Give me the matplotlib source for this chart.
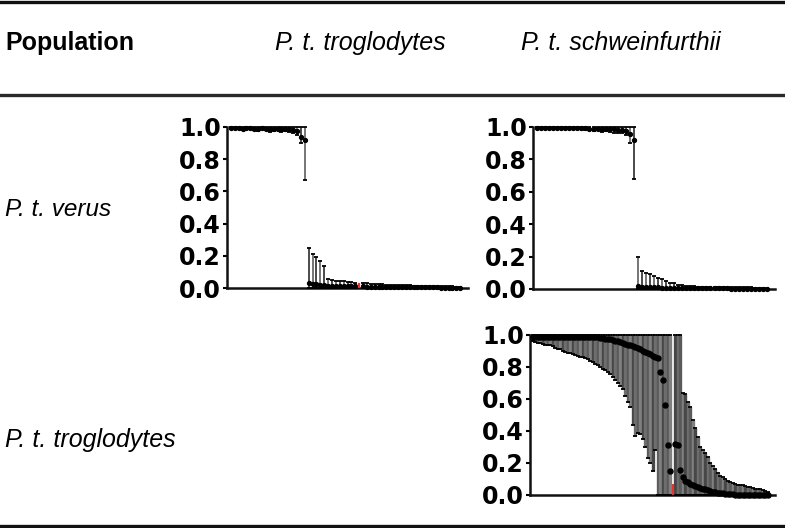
import matplotlib
matplotlib.use('Agg')
import matplotlib.pyplot as plt
from matplotlib.lines import Line2D

# header / row labels
col_labels = ['Population', 'P. t. troglodytes', 'P. t. schweinfurthii']
row_labels = ['P. t. verus', 'P. t. troglodytes']
yticks = [0.0, 0.2, 0.4, 0.6, 0.8, 1.0]

# panel 1: verus vs troglodytes (sorted assignment prob, lower / upper bounds)
p1_val = [0.995, 0.995, 0.995, 0.99, 0.995, 0.995, 0.99, 0.99, 0.995, 0.99,
          0.985, 0.99, 0.99, 0.985, 0.99, 0.985, 0.98, 0.975, 0.94, 0.92,
          0.03, 0.025, 0.022, 0.02, 0.018, 0.015, 0.015, 0.013, 0.012, 0.012,
          0.011, 0.01, 0.01, 0.008, 0.01, 0.009, 0.009, 0.008, 0.008, 0.008,
          0.007, 0.007, 0.007, 0.006, 0.006, 0.006, 0.005, 0.005, 0.005, 0.005,
          0.004, 0.004, 0.004, 0.004, 0.003, 0.003, 0.003, 0.003, 0.003, 0.003]
p1_lo = [0.99, 0.985, 0.99, 0.98, 0.985, 0.985, 0.98, 0.975, 0.985, 0.98,
         0.97, 0.975, 0.98, 0.97, 0.975, 0.97, 0.96, 0.95, 0.90, 0.67,
         0.0, 0.0, 0.0, 0.0, 0.0, 0.0, 0.0, 0.0, 0.0, 0.0,
         0.0, 0.0, 0.0, 0.0, 0.0, 0.0, 0.0, 0.0, 0.0, 0.0,
         0.0, 0.0, 0.0, 0.0, 0.0, 0.0, 0.0, 0.0, 0.0, 0.0,
         0.0, 0.0, 0.0, 0.0, 0.0, 0.0, 0.0, 0.0, 0.0, 0.0]
p1_hi = [1.0, 1.0, 1.0, 1.0, 1.0, 1.0, 1.0, 1.0, 1.0, 1.0,
         1.0, 1.0, 1.0, 1.0, 1.0, 1.0, 1.0, 1.0, 1.0, 1.0,
         0.25, 0.21, 0.19, 0.165, 0.135, 0.055, 0.05, 0.046, 0.044, 0.042,
         0.04, 0.036, 0.034, 0.03, 0.03, 0.028, 0.026, 0.025, 0.023, 0.022,
         0.021, 0.02, 0.019, 0.018, 0.017, 0.016, 0.016, 0.015, 0.014, 0.014,
         0.013, 0.012, 0.012, 0.011, 0.011, 0.01, 0.01, 0.01, 0.009, 0.009]
p1_red = 34

# panel 2: verus vs schweinfurthii
p2_val = [0.995, 0.995, 0.995, 0.995, 0.995, 0.995, 0.995, 0.995, 0.995, 0.995,
          0.995, 0.995, 0.995, 0.99, 0.99, 0.99, 0.985, 0.99, 0.985, 0.985,
          0.98, 0.98, 0.975, 0.955, 0.92,
          0.02, 0.015, 0.013, 0.012, 0.011, 0.01, 0.009, 0.008, 0.008, 0.007,
          0.007, 0.006, 0.006, 0.006, 0.005, 0.005, 0.005, 0.005, 0.004, 0.004,
          0.004, 0.004, 0.004, 0.003, 0.003, 0.003, 0.003, 0.003, 0.003, 0.003,
          0.003, 0.003, 0.003]
p2_lo = [0.99, 0.99, 0.985, 0.99, 0.985, 0.99, 0.985, 0.99, 0.985, 0.985,
         0.99, 0.985, 0.98, 0.98, 0.975, 0.98, 0.97, 0.975, 0.97, 0.965,
         0.96, 0.965, 0.95, 0.90, 0.68,
         0.0, 0.0, 0.0, 0.0, 0.0, 0.0, 0.0, 0.0, 0.0, 0.0,
         0.0, 0.0, 0.0, 0.0, 0.0, 0.0, 0.0, 0.0, 0.0, 0.0,
         0.0, 0.0, 0.0, 0.0, 0.0, 0.0, 0.0, 0.0, 0.0, 0.0,
         0.0, 0.0, 0.0]
p2_hi = [1.0, 1.0, 1.0, 1.0, 1.0, 1.0, 1.0, 1.0, 1.0, 1.0,
         1.0, 1.0, 1.0, 1.0, 1.0, 1.0, 1.0, 1.0, 1.0, 1.0,
         1.0, 1.0, 1.0, 1.0, 1.0,
         0.20, 0.11, 0.10, 0.09, 0.08, 0.07, 0.06, 0.05, 0.04, 0.035,
         0.025, 0.022, 0.02, 0.018, 0.016, 0.015, 0.015, 0.014, 0.013, 0.013,
         0.012, 0.012, 0.011, 0.011, 0.01, 0.01, 0.01, 0.01, 0.01, 0.009,
         0.009, 0.009, 0.008]

# panel 3: troglodytes vs schweinfurthii
p3_val = [0.99, 0.99, 0.99, 0.99, 0.99, 0.99, 0.99, 0.99, 0.99, 0.99,
          0.99, 0.99, 0.99, 0.99, 0.99, 0.99, 0.99, 0.99, 0.99, 0.99,
          0.985, 0.985, 0.985, 0.985, 0.985, 0.985, 0.985, 0.98, 0.98,
          0.978, 0.975, 0.972, 0.968, 0.964, 0.96, 0.955, 0.95, 0.945, 0.94,
          0.935, 0.93, 0.925, 0.918, 0.91, 0.902, 0.895, 0.888, 0.88, 0.87,
          0.862, 0.855,
          0.77, 0.72, 0.56, 0.31, 0.15,
          0.0,
          0.32, 0.31, 0.155, 0.11, 0.09, 0.08, 0.07, 0.06, 0.055, 0.05,
          0.045, 0.04, 0.035, 0.03, 0.025, 0.02, 0.018, 0.015, 0.012, 0.01,
          0.008, 0.006, 0.005, 0.004, 0.003, 0.003, 0.002, 0.002, 0.002, 0.002,
          0.001, 0.001, 0.001, 0.001, 0.001, 0.001, 0.001, 0.001]
p3_lo = [0.96, 0.955, 0.95, 0.95, 0.945, 0.94, 0.94, 0.935, 0.93, 0.92,
         0.915, 0.91, 0.90, 0.895, 0.89, 0.885, 0.88, 0.875, 0.87, 0.865,
         0.86, 0.855, 0.85, 0.84, 0.83, 0.82, 0.81, 0.80, 0.79, 0.78,
         0.77, 0.755, 0.74, 0.72, 0.70, 0.68, 0.66, 0.62, 0.58, 0.55,
         0.44, 0.37, 0.39, 0.38, 0.35, 0.30, 0.23, 0.20, 0.15, 0.28,
         0.0,
         0.0, 0.0, 0.0, 0.0, 0.0,
         0.0,
         0.0, 0.0, 0.0, 0.0, 0.0, 0.0, 0.0, 0.0, 0.0, 0.0,
         0.0, 0.0, 0.0, 0.0, 0.0, 0.0, 0.0, 0.0, 0.0, 0.0,
         0.0, 0.0, 0.0, 0.0, 0.0, 0.0, 0.0, 0.0, 0.0, 0.0,
         0.0, 0.0, 0.0, 0.0, 0.0, 0.0, 0.0, 0.0]
p3_hi = [1.0, 1.0, 1.0, 1.0, 1.0, 1.0, 1.0, 1.0, 1.0, 1.0,
         1.0, 1.0, 1.0, 1.0, 1.0, 1.0, 1.0, 1.0, 1.0, 1.0,
         1.0, 1.0, 1.0, 1.0, 1.0, 1.0, 1.0, 1.0, 1.0, 1.0,
         1.0, 1.0, 1.0, 1.0, 1.0, 1.0, 1.0, 1.0, 1.0, 1.0,
         1.0, 1.0, 1.0, 1.0, 1.0, 1.0, 1.0, 1.0, 1.0, 1.0,
         1.0,
         1.0, 1.0, 1.0, 1.0, 1.0,
         0.07,
         1.0, 1.0, 1.0, 0.64, 0.63, 0.58, 0.55, 0.47, 0.42, 0.36,
         0.30, 0.28, 0.26, 0.24, 0.20, 0.18, 0.16, 0.14, 0.12, 0.11,
         0.10, 0.09, 0.08, 0.075, 0.07, 0.065, 0.06, 0.06, 0.055, 0.05,
         0.05, 0.045, 0.04, 0.04, 0.035, 0.03, 0.025, 0.02]
p3_red = 57

RED = '#e8322b'
TICKFONT = dict(family='DejaVu Sans', weight='bold', size=17)


def draw_panel(ax, val, lo, hi, red, xmax, ecols, elw, ms):
    x = list(range(1, len(val) + 1))
    keep = [i for i in range(len(val)) if i + 1 != red]
    xs = [x[i] for i in keep]
    vs = [val[i] for i in keep]
    ls = [lo[i] for i in keep]
    hs = [hi[i] for i in keep]
    # alternate shades so the dense bars look striped like the original
    cols = [ecols[i % len(ecols)] for i in range(len(xs))]
    ax.vlines(xs, ls, hs, colors=cols, lw=elw, clip_on=False, zorder=2)
    ax.plot(xs, ls, ls='none', marker='_', ms=3.5, mew=1.3, color='k', clip_on=False, zorder=3)
    ax.plot(xs, hs, ls='none', marker='_', ms=3.5, mew=1.3, color='k', clip_on=False, zorder=3)
    ax.plot(xs, vs, ls='none', marker='o', ms=ms, color='k', mec='k', clip_on=False, zorder=4)
    if red:
        ax.vlines([red], [lo[red - 1]], [hi[red - 1]], color=RED, lw=1.6, zorder=5, clip_on=False)

    ax.set_xlim(0, xmax)
    ax.set_ylim(0, 1.0)
    for s in ['top', 'right']:
        ax.spines[s].set_visible(False)
    for s in ['left', 'bottom']:
        ax.spines[s].set_linewidth(1.8)
        ax.spines[s].set_color('#111111')
    ax.set_xticks([])
    ax.set_yticks(yticks)
    ax.set_yticklabels(['%.1f' % t for t in yticks], fontdict=TICKFONT)
    ax.tick_params(axis='y', direction='out', length=3, width=1.5, pad=1.5)
    ax.patch.set_visible(False)


fig = plt.figure(figsize=(7.85, 5.28), dpi=100)

ax1 = fig.add_axes([227 / 785, 1 - 288 / 528, 241 / 785, 161 / 528])
draw_panel(ax1, p1_val, p1_lo, p1_hi, p1_red, 62, ['#3c3c3c', '#6a6a6a'], 1.3, 2.8)

ax2 = fig.add_axes([533 / 785, 1 - 289 / 528, 242 / 785, 162 / 528])
draw_panel(ax2, p2_val, p2_lo, p2_hi, None, 60, ['#3c3c3c', '#6a6a6a'], 1.3, 2.8)

ax3 = fig.add_axes([530 / 785, 1 - 495 / 528, 245 / 785, 160 / 528])
draw_panel(ax3, p3_val, p3_lo, p3_hi, p3_red, 98, ['#474747', '#6e6e6e', '#5a5a5a', '#808080'], 2.4, 3.6)

# table text
head_y = 1 - 43 / 528
fig.text(5 / 785, head_y, col_labels[0], family='Liberation Sans', weight='bold',
         size=18, va='center', ha='left')
fig.text(360 / 785, head_y, col_labels[1], family='Liberation Sans', style='italic',
         size=18, va='center', ha='center')
fig.text(621 / 785, head_y, col_labels[2], family='Liberation Sans', style='italic',
         size=18, va='center', ha='center')
fig.text(5 / 785, 1 - 210 / 528, row_labels[0], family='Liberation Sans', style='italic',
         size=17.5, va='center', ha='left')
fig.text(5 / 785, 1 - 440 / 528, row_labels[1], family='Liberation Sans', style='italic',
         size=18, va='center', ha='left')

# horizontal rules
for yy, col in [(1 - 1.5 / 528, '#111111'), (1 - 94.5 / 528, '#2a2a2a'), (1 - 525.5 / 528, '#111111')]:
    fig.add_artist(Line2D([0, 1], [yy, yy], transform=fig.transFigure, color=col, lw=2.4))

fig.savefig('out.png', dpi=100)
